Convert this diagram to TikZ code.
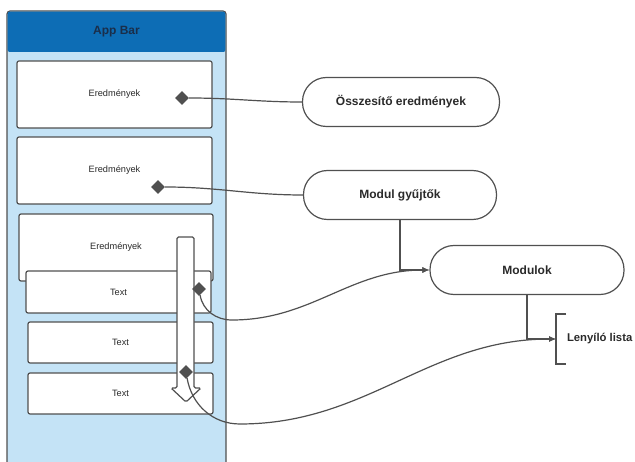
\documentclass[tikz,border=0pt]{standalone}
\usepackage{fontspec}
\setmainfont{Liberation Sans}
\usetikzlibrary{shapes.geometric,arrows.meta}

\definecolor{barblue}{HTML}{0D6DB5}
\definecolor{screenblue}{HTML}{C4E3F6}
\definecolor{edgegray}{HTML}{505050}
\definecolor{ink}{HTML}{2A2A2A}
\definecolor{navy}{HTML}{1A2E4A}

\begin{document}
\begin{tikzpicture}[x=1pt, y=-1pt,
every node/.style={text=ink, align=center},
phone/.style={rectangle, draw=edgegray, fill=screenblue, line width=1.2pt, rounded corners=3pt,
        minimum width=219pt, minimum height=470pt},
appbar/.style={rectangle, fill=barblue, rounded corners=2pt, outer sep=0pt, text=navy,
        minimum width=217.6pt, minimum height=40.4pt, font=\bfseries\fontsize{12}{14}\selectfont},
card/.style={rectangle, draw=edgegray, fill=white, line width=1.2pt, rounded corners=2pt,
        font=\fontsize{9.2}{11}\selectfont},
pill/.style={rectangle, draw=edgegray, fill=white, line width=1.2pt, rounded corners=24pt,
        minimum height=49pt, font=\bfseries\fontsize{12}{14}\selectfont},
knob/.style={diamond, fill=edgegray, inner sep=0pt, minimum size=14pt},
link/.style={draw=edgegray, line width=1.2pt},
flow/.style={link, -{Latex[length=7pt,width=6pt]}}
]
  \useasboundingbox (0,0) rectangle (635,462);

  \node[phone] (phone) at (116.5,246) {};
  \node[appbar, anchor=north] (bar) at ([yshift=-1.2pt]phone.north) {App Bar};

  \node[card, minimum width=195pt, minimum height=67pt] (res1) at (114.5,94.5) {Eredmények};
  \node[card, minimum width=195pt, minimum height=67pt] (res2) at (114.5,170.5) {Eredmények};
  \node[card, minimum width=194pt, minimum height=67pt] (res3) at (116,247.5) {Eredmények};
  \node[card, minimum width=185pt, minimum height=42pt] (txt1) at (118.5,292) {Text};
  \node[card, minimum width=185pt, minimum height=41pt] (txt2) at (120.5,342.5) {Text};
  \node[card, minimum width=185pt, minimum height=41pt] (txt3) at (120.5,393.5) {Text};

  \draw[edgegray, fill=white, line width=1.2pt, rounded corners=1.5pt]
    (177,388) -- (177,237) -- (194,237) -- (194,388) -- (201,388) -- (186,402) -- (171,388) -- cycle;

  \node[knob] (k1) at (182,98) {};
  \node[knob] (k2) at (158,187) {};
  \node[knob] (k3) at (199,289) {};
  \node[knob] (k4) at (186,372) {};

  \node[pill, minimum width=197pt] (summary) at (401,102) {Összesítő eredmények};
  \node[pill, minimum width=193pt] (collect) at (400,195) {Modul gyűjtők};
  \node[pill, minimum width=194pt] (modules) at (527,270) {Modulok};
  \node[anchor=west, minimum height=50pt, inner xsep=11pt, outer sep=0pt,
        font=\bfseries\fontsize{11.3}{14}\selectfont] (dropdown) at (556,339) {Lenyíló lista};
  \draw[link] ([xshift=10pt]dropdown.north west) -- (dropdown.north west)
    -- (dropdown.south west) -- ([xshift=10pt]dropdown.south west);

  \draw[link] (k1) to[out=0, in=180] (summary.west);
  \draw[link] (k2) to[out=0, in=180] (collect.west);
  \draw[flow] (collect.south) |- (modules.west);
  \draw[flow] (k3) to[out=-80, in=180] (232,320) to[out=0, in=180] (modules.west);
  \draw[flow] (modules.south) |- (dropdown.west);
  \draw[flow] (k4) to[out=-80, in=180] (240,424) to[out=0, in=180] (dropdown.west);
\end{tikzpicture}
\end{document}
